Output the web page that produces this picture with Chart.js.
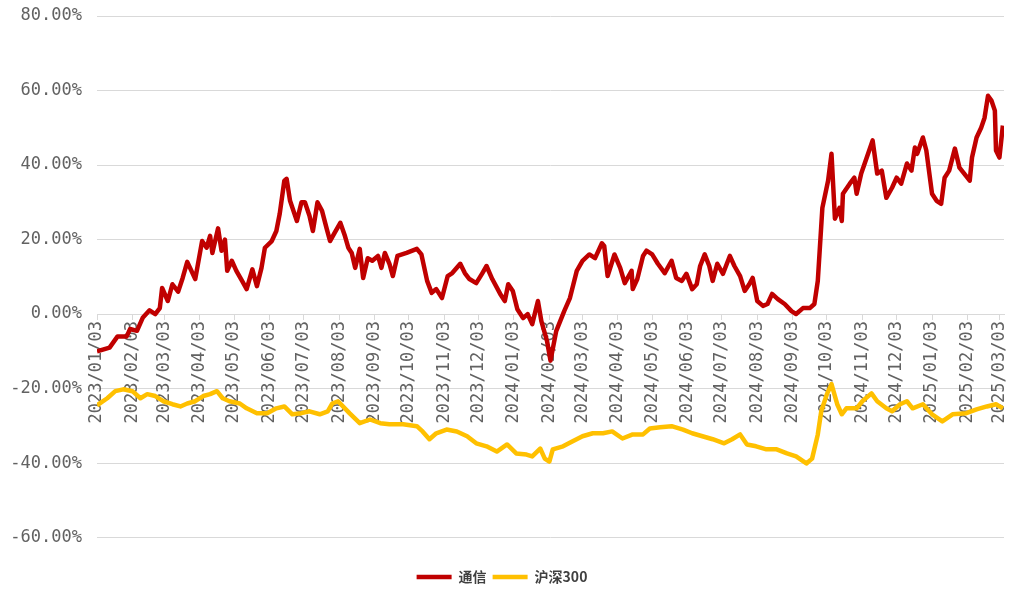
<!DOCTYPE html>
<html>
<head>
<meta charset="utf-8">
<script src="https://cdn.jsdelivr.net/npm/chart.js@4.4.1/dist/chart.umd.min.js"></script>
<style>
html, body { margin: 0; padding: 0; background: #fff; }
#wrap { width: 1011px; height: 594px; }
</style>
</head>
<body>
<div id="wrap"><canvas id="chart"></canvas></div>
<script>
const startDate = "2023/01/03"
const endDay = 794
const monthLabels = [
    "2023/01/03", "2023/02/03", "2023/03/03", "2023/04/03", "2023/05/03", "2023/06/03",
    "2023/07/03", "2023/08/03", "2023/09/03", "2023/10/03", "2023/11/03", "2023/12/03",
    "2024/01/03", "2024/02/03", "2024/03/03", "2024/04/03", "2024/05/03", "2024/06/03",
    "2024/07/03", "2024/08/03", "2024/09/03", "2024/10/03", "2024/11/03", "2024/12/03",
    "2025/01/03", "2025/02/03", "2025/03/03"
]
const yTicks = [-60, -40, -20, 0, 20, 40, 60, 80]

// days after 2023/01/03, and cumulative return in %
const telecomDays = [0, 11, 18, 26, 29, 35, 40, 46, 51, 55, 57, 62, 66, 71, 75, 79, 86, 92, 96, 99,
    101, 106, 109, 112, 114, 118, 122, 127, 131, 136, 140, 144, 147, 153, 157, 160, 164, 166, 169, 175,
    179, 182, 186, 189, 193, 197, 201, 204, 208, 213, 217, 220, 223, 226, 230, 233, 237, 241, 246, 249,
    252, 256, 259, 263, 271, 280, 284, 289, 293, 297, 302, 307, 311, 318, 322, 326, 332, 337, 341, 346,
    353, 357, 360, 364, 368, 373, 377, 381, 386, 389, 394, 397, 402, 409, 414, 420, 425, 431, 436, 442,
    444, 447, 453, 458, 462, 468, 469, 473, 478, 481, 486, 491, 497, 503, 507, 512, 516, 521, 525, 528,
    532, 536, 539, 543, 548, 554, 558, 563, 567, 571, 574, 578, 583, 587, 591, 596, 602, 608, 612, 618,
    624, 628, 631, 635, 640, 643, 646, 650, 652, 653, 659, 663, 665, 669, 675, 679, 683, 687, 691, 696,
    700, 704, 709, 713, 716, 718, 723, 726, 731, 735, 739, 742, 746, 751, 755, 764, 766, 770, 774, 777,
    780, 783, 786, 787, 790, 793]
const telecomValues = [-10, -9, -6, -6, -4, -4.5, -1, 1, 0, 1.6, 7, 3.5, 8, 6, 9.7, 14, 9.4, 19.6, 17.8, 21,
    16.4, 23, 17, 20, 11.6, 14.3, 11.6, 8.9, 6.7, 12, 7.5, 12.4, 17.8, 19.6, 22.3, 27, 35.8, 36.3, 30.4, 25,
    30, 30, 26.4, 22.3, 30, 27.7, 23, 19.6, 21.8, 24.5, 21, 17.8, 16.4, 12.4, 17.5, 9.7, 15, 14.3, 15.6, 12.4,
    16.4, 13.5, 10.2, 15.6, 16.4, 17.5, 16, 8.9, 5.7, 6.7, 4.3, 10.2, 11, 13.5, 11, 9.4, 8.3, 10.8, 12.9, 9.4,
    5.4, 3.5, 8, 6.2, 1.3, -1.1, 0, -2.7, 3.5, -1.9, -7.3, -12.5, -4.6, 0.8, 4.3, 11.6, 14.3, 16, 15, 19,
    18.3, 10.2, 16, 12.4, 8.3, 11.6, 6.7, 9.4, 15.6, 17, 16, 13.5, 11, 14.3, 9.7, 8.9, 10.8, 6.7, 8, 12.9,
    16, 12.9, 8.9, 13.5, 10.8, 15.6, 12.9, 10.2, 6.2, 8, 9.7, 3.5, 2.2, 2.7, 5.4, 4, 2.7, 0.8, 0, 1.6,
    1.6, 2.7, 8.9, 28.5, 35.8, 43, 25.6, 28.5, 25, 32.3, 35, 36.6, 32.3, 37.7, 43, 46.6, 37.7, 38.5, 31.2, 33.9,
    36.6, 35, 40.4, 38.5, 44.7, 43, 47.4, 43.9, 32.3, 30.4, 29.6, 36.6, 38.5, 44.4, 39.3, 35.8, 42, 47.4, 50, 52.7,
    58.6, 57.3, 54.6, 43.9, 42, 50.6]

const hs300Days = [0, 9, 16, 23, 31, 38, 44, 51, 58, 66, 73, 79, 86, 93, 99, 105, 110, 116, 125, 131,
    140, 149, 157, 164, 171, 179, 186, 195, 202, 206, 211, 221, 230, 239, 248, 256, 268, 280, 285, 291,
    297, 306, 315, 324, 332, 341, 350, 359, 367, 376, 381, 388, 392, 396, 399, 408, 416, 425, 434, 443,
    451, 460, 469, 478, 484, 493, 503, 513, 521, 530, 539, 549, 556, 563, 569, 577, 586, 595, 604, 612,
    621, 626, 631, 634, 639, 643, 648, 652, 656, 665, 670, 678, 683, 691, 696, 703, 709, 714, 723, 731,
    740, 749, 761, 770, 779, 787, 793]
const hs300Values = [-24.5, -22.6, -20.7, -20.2, -20.7, -22.6, -21.5, -22, -23.4, -24.2, -24.8, -24, -23.4, -22, -21.5, -20.7, -22.6, -23.4, -24, -25.3,
    -26.6, -26.6, -25.3, -24.8, -26.9, -26.6, -26.1, -26.9, -26.1, -24, -23.4, -26.6, -29.3, -28.3, -29.3, -29.6, -29.6, -30.1, -31.5, -33.6,
    -32, -31, -31.5, -32.8, -34.7, -35.5, -36.9, -35, -37.4, -37.7, -38.2, -36.1, -38.8, -39.6, -36.3, -35.5, -34.2, -32.8, -32, -32,
    -31.5, -33.4, -32.3, -32.3, -30.7, -30.4, -30.1, -31, -32, -32.8, -33.6, -34.7, -33.6, -32.3, -35, -35.5, -36.3, -36.3, -37.4, -38.2,
    -40.1, -38.8, -32.3, -26.1, -21.5, -18.8, -24.2, -26.9, -25.3, -25.3, -23.4, -21.3, -23.4, -25.3, -26.1, -24.2, -23.4, -25.3, -24.2, -26.9,
    -28.8, -26.9, -26.6, -25.6, -24.8, -24.2, -25.3]

const dayOf = (s) => {
    const [y, m, d] = s.split("/").map(Number)
    const [y0, m0, d0] = startDate.split("/").map(Number)
    return Math.round((Date.UTC(y, m - 1, d) - Date.UTC(y0, m0 - 1, d0)) / 86400000)
}
const toPoints = (days, values) => days.map((d, i) => ({ x: d, y: values[i] }))

const labelFont = { family: "'DejaVu Sans Mono', monospace", size: 17 }
const labelColor = "#626262"
const gridColor = "#d9d9d9"

// let the layout padding alone decide where the plot area sits
const noPadding = (axis) => {
    axis.paddingTop = 0
    axis.paddingBottom = 0
    axis.paddingLeft = 0
    axis.paddingRight = 0
}

const ctx = document.querySelector("#chart")
const chart = new Chart(ctx, {
    type: "line",
    data: {
        datasets: [{
            label: "通信",
            data: toPoints(telecomDays, telecomValues),
            borderColor: "#c00000",
            backgroundColor: "#c00000",
            borderWidth: 4.5,
            pointRadius: 0,
            pointStyle: "line",
            borderJoinStyle: "round",
            tension: 0
        }, {
            label: "沪深300",
            data: toPoints(hs300Days, hs300Values),
            borderColor: "#ffc000",
            backgroundColor: "#ffc000",
            borderWidth: 4.5,
            pointRadius: 0,
            pointStyle: "line",
            borderJoinStyle: "round",
            tension: 0
        }]
    },
    options: {
        responsive: true,
        maintainAspectRatio: false,
        animation: false,
        layout: { padding: { left: 0, right: 7, top: 16, bottom: 0 } },
        scales: {
            x: {
                type: "linear",
                min: 0,
                max: endDay,
                position: { y: 0 },
                afterBuildTicks: (axis) => {
                    axis.ticks = monthLabels.map(l => ({ value: dayOf(l) }))
                },
                afterFit: noPadding,
                ticks: {
                    autoSkip: false,
                    minRotation: 90,
                    maxRotation: 90,
                    padding: 2,
                    font: labelFont,
                    color: labelColor,
                    callback: (v, i) => monthLabels[i]
                },
                grid: { drawOnChartArea: false, drawTicks: true, tickLength: 5, color: gridColor },
                border: { display: true, color: gridColor }
            },
            y: {
                min: -60,
                max: 80,
                afterBuildTicks: (axis) => {
                    axis.ticks = yTicks.map(v => ({ value: v }))
                },
                afterFit: (axis) => {
                    noPadding(axis)
                    axis.width = 97
                },
                ticks: {
                    padding: 15,
                    font: labelFont,
                    color: labelColor,
                    callback: (v) => v.toFixed(2) + "%"
                },
                grid: { color: gridColor, drawTicks: false },
                border: { display: false }
            }
        },
        plugins: {
            legend: {
                position: "bottom",
                title: { display: true, text: " ", font: { size: 12 }, padding: { top: 0, bottom: 12 } },
                labels: {
                    usePointStyle: true,
                    pointStyleWidth: 35,
                    padding: 6,
                    color: "#404040",
                    font: { family: "'Noto Sans CJK SC'", size: 14, weight: "bold" }
                }
            },
            tooltip: { enabled: false }
        }
    }
})
</script>
</body>
</html>
